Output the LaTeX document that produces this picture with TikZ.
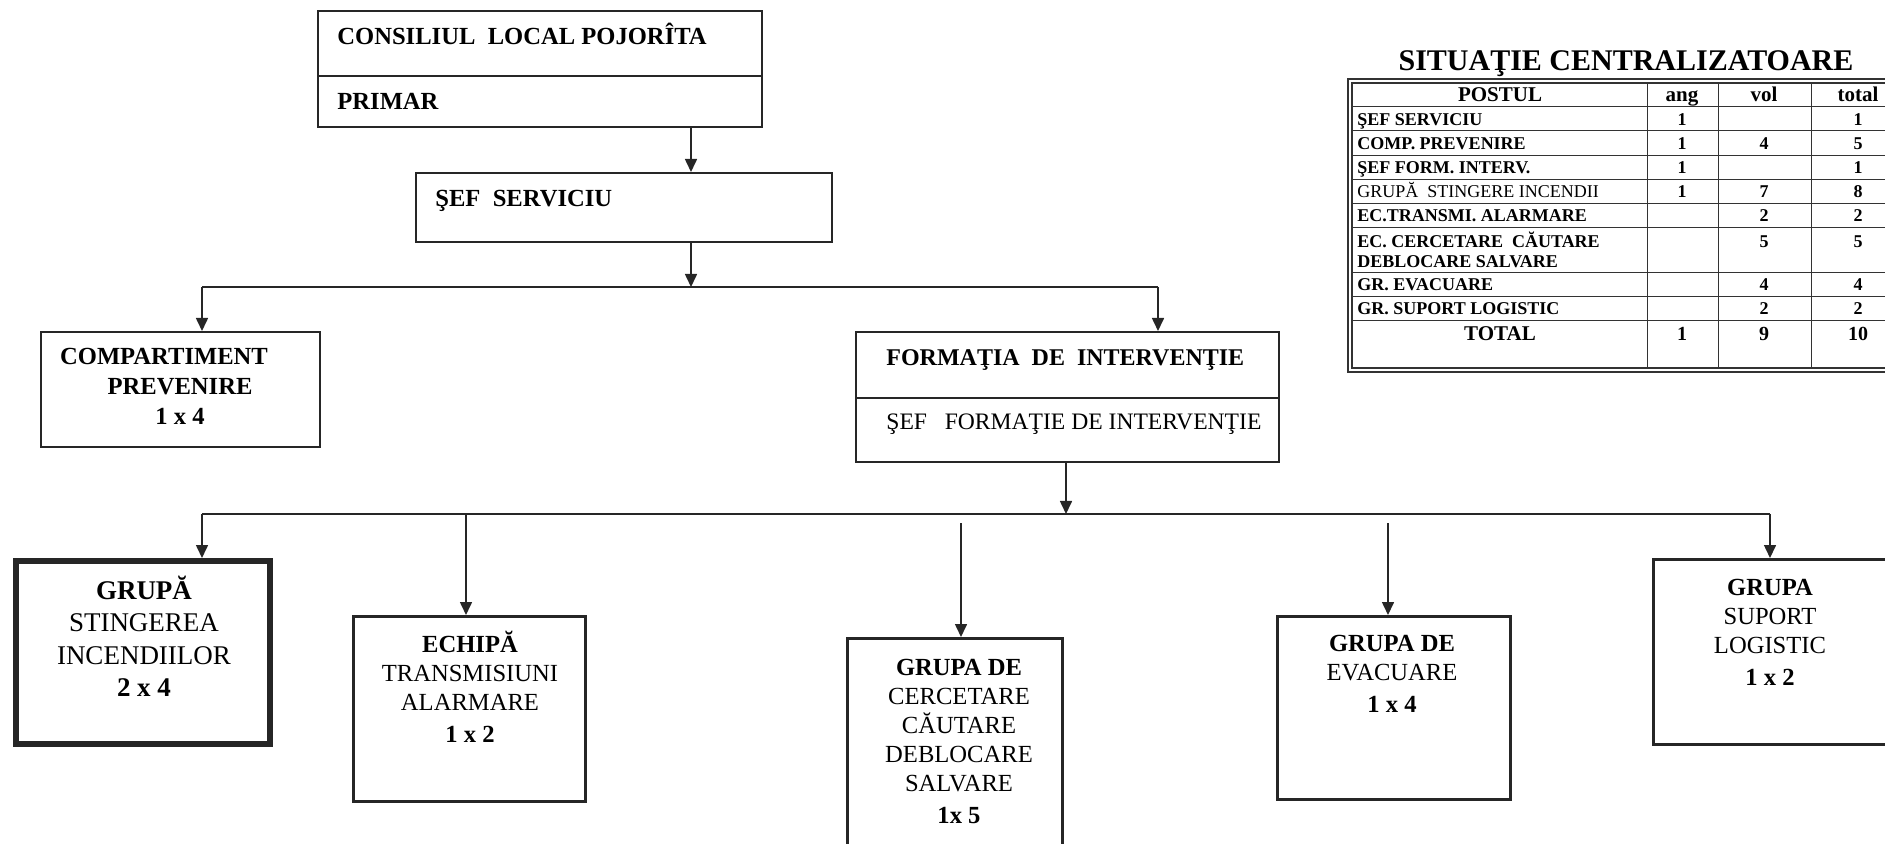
\documentclass[tikz,border=0pt]{standalone}
\usepackage{fontspec}
\setmainfont{Liberation Serif}
\usetikzlibrary{arrows.meta}
\newcommand\topst{\rule{0pt}{1em}}
\begin{document}
\begin{tikzpicture}[x=0.5pt,y=-0.5pt,
  box/.style={draw=black!85, line width=1.1pt, rectangle, inner sep=0pt, anchor=north west},
  gbox/.style={box, line width=1.7pt},
  thickbox/.style={box, line width=3.2pt},
  conn/.style={draw=black!85, line width=0.8pt},
  arr/.style={conn, -{Triangle[length=6.5pt,width=6pt]}},
  hd/.style={font={\bfseries\fontsize{12.3}{15}\selectfont}, inner sep=0pt, anchor=base west},
  hr/.style={font={\fontsize{11.8}{15}\selectfont}, inner sep=0pt, anchor=base west},
  ml/.style={align=center, anchor=north, inner sep=0pt, font={\fontsize{12.3}{14.5}\selectfont}},
  grid/.style={draw=black!80, line width=0.5pt},
  tl/.style={anchor=base west, inner sep=0pt, font={\bfseries\fontsize{9}{10}\selectfont}},
  tc/.style={anchor=base, inner sep=0pt, font={\bfseries\fontsize{9}{10}\selectfont}},
  th/.style={anchor=base, inner sep=0pt, font={\bfseries\fontsize{10.5}{12}\selectfont}}
]
\useasboundingbox (0,0) rectangle (1885,844);

% ---------- boxes ----------
\node[box, minimum width=222pt, minimum height=58pt] (council) at (317,10) {};
\node[box, minimum width=208pt, minimum height=34.5pt] (sef) at (415,172) {};
\node[box, minimum width=139.5pt, minimum height=57.5pt] (comp) at (40,331) {};
\node[box, minimum width=211.5pt, minimum height=65pt] (form) at (855,331) {};
\node[thickbox, minimum width=127pt, minimum height=91.5pt] (g1) at (13,558) {};
\node[gbox, minimum width=116pt, minimum height=92.5pt] (g2) at (352,615) {};
\node[gbox, minimum width=107.5pt, minimum height=104pt] (g3) at (846,637) {};
\node[gbox, minimum width=116.5pt, minimum height=91.5pt] (g4) at (1276,615) {};
\node[gbox, minimum width=119pt, minimum height=92.5pt] (g5) at (1652,558) {};

% dividers
\coordinate (d1) at (0,76);
\coordinate (d2) at (0,398);
\draw[conn, line width=1.1pt] (council.west |- d1) -- (council.east |- d1);
\draw[conn, line width=1.1pt] (form.west |- d2) -- (form.east |- d2);

% ---------- texts ----------
\node[hd] (tcouncil) at (337,45) {CONSILIUL\ \ LOCAL POJORÎTA};
\node[hd] (tprimar) at (337,110) {PRIMAR};
\node[hd] (tsef) at (435,207) {ŞEF\ \ SERVICIU};
\node[hd, font={\bfseries\fontsize{12}{15}\selectfont}] (tform) at (886,366) {FORMAŢIA\ \ DE\ \ INTERVENŢIE};
\node[hr] (tsefform) at (886,430) {ŞEF\ \ \ FORMAŢIE\ DE INTERVENŢIE};

\node[ml, font={\bfseries\fontsize{12.3}{15}\selectfont}] (tcomp) at (180,340) {\topst COMPARTIMENT\rule{16pt}{0pt}\\PREVENIRE\\1 x 4};
\node[ml, font={\fontsize{13.5}{16.15}\selectfont}] (tg1) at (144,572) {\topst\textbf{GRUPĂ}\\STINGEREA\\INCENDIILOR\\\textbf{2 x 4}};
\node[ml] (tg2) at (470,627.4) {\topst\textbf{ECHIPĂ}\\TRANSMISIUNI\\ALARMARE\\[1.5pt]\textbf{1 x 2}};
\node[ml] (tg3) at (959,650.4) {\topst\textbf{GRUPA DE}\\CERCETARE\\CĂUTARE\\DEBLOCARE\\SALVARE\\[1.5pt]\textbf{1x 5}};
\node[ml] (tg4) at (1392,626.4) {\topst\textbf{GRUPA DE}\\EVACUARE\\[1.5pt]\textbf{1 x 4}};
\node[ml] (tg5) at (1770,570.4) {\topst\textbf{GRUPA}\\SUPORT\\LOGISTIC\\[1.5pt]\textbf{1 x 2}};

% ---------- connectors ----------
\coordinate (a1) at (691,0);
\coordinate (bus1) at (0,287);
\coordinate (b1l) at (202,287);
\coordinate (b1r) at (1158,287);
\coordinate (a2) at (1066,0);
\coordinate (bus2) at (0,514);
\coordinate (b2l) at (202,514);
\coordinate (b2r) at (1770,514);
\coordinate (b2e) at (466,514);
\coordinate (s3) at (961,523);
\coordinate (s4) at (1388,523);

\draw[arr] (council.south -| a1) -- (sef.north -| a1);
\draw[arr] (sef.south -| a1) -- (a1 |- bus1);
\draw[conn] (b1l) -- (b1r);
\draw[arr] (b1l) -- (b1l |- comp.north);
\draw[arr] (b1r) -- (b1r |- form.north);
\draw[arr] (form.south -| a2) -- (a2 |- bus2);
\draw[conn] (b2l) -- (b2r);
\draw[arr] (b2l) -- (b2l |- g1.north);
\draw[arr] (b2e) -- (b2e |- g2.north);
\draw[arr] (s3) -- (s3 |- g3.north);
\draw[arr] (s4) -- (s4 |- g4.north);
\draw[arr] (b2r) -- (b2r |- g5.north);

% ---------- table ----------
\node[anchor=base, inner sep=0pt, font={\bfseries\fontsize{15}{17}\selectfont}] (title) at (1626,71) {SITUAŢIE CENTRALIZATOARE};
\draw[grid, line width=0.6pt] (1348,79) rectangle (1905,372);
\draw[grid, line width=0.6pt] (1352,83) rectangle (1901,368);
\foreach \yy in {107,131,156,180,204,228,273,297,321}
  \draw[grid] (1352,\yy) -- (1901,\yy);
\foreach \xx in {1647,1718,1811}
  \draw[grid] (\xx,83) -- (\xx,368);

\node[th] (h1) at (1500,102) {POSTUL};
\node[th] (h2) at (1682,102) {ang};
\node[th] (h3) at (1764,102) {vol};
\node[th] (h4) at (1858,102) {total};

\node[tl] (r1) at (1357,126) {ŞEF SERVICIU};
\node[tc] (r1a) at (1682,126) {1};
\node[tc] (r1t) at (1858,126) {1};

\node[tl] (r2) at (1357,150) {COMP. PREVENIRE};
\node[tc] (r2a) at (1682,150) {1};
\node[tc] (r2v) at (1764,150) {4};
\node[tc] (r2t) at (1858,150) {5};

\node[tl] (r3) at (1357,174) {ŞEF FORM. INTERV.};
\node[tc] (r3a) at (1682,174) {1};
\node[tc] (r3t) at (1858,174) {1};

\node[tl, font={\fontsize{9}{10}\selectfont}] (r4) at (1357,198) {GRUPĂ\ \ STINGERE INCENDII};
\node[tc] (r4a) at (1682,198) {1};
\node[tc] (r4v) at (1764,198) {7};
\node[tc] (r4t) at (1858,198) {8};

\node[tl] (r5) at (1357,222) {EC.TRANSMI. ALARMARE};
\node[tc] (r5v) at (1764,222) {2};
\node[tc] (r5t) at (1858,222) {2};

\node[tl, align=left] (r6) at (1357,268) {EC. CERCETARE\ \ CĂUTARE\\DEBLOCARE SALVARE};
\node[tc] (r6v) at (1764,248) {5};
\node[tc] (r6t) at (1858,248) {5};

\node[tl] (r7) at (1357,291) {GR. EVACUARE};
\node[tc] (r7v) at (1764,291) {4};
\node[tc] (r7t) at (1858,291) {4};

\node[tl] (r8) at (1357,315) {GR. SUPORT LOGISTIC};
\node[tc] (r8v) at (1764,315) {2};
\node[tc] (r8t) at (1858,315) {2};

\node[th] (r9) at (1500,341) {TOTAL};
\node[th, font={\bfseries\fontsize{10}{12}\selectfont}] (r9a) at (1682,341) {1};
\node[th, font={\bfseries\fontsize{10}{12}\selectfont}] (r9v) at (1764,341) {9};
\node[th, font={\bfseries\fontsize{10}{12}\selectfont}] (r9t) at (1858,341) {10};
\end{tikzpicture}
\end{document}
